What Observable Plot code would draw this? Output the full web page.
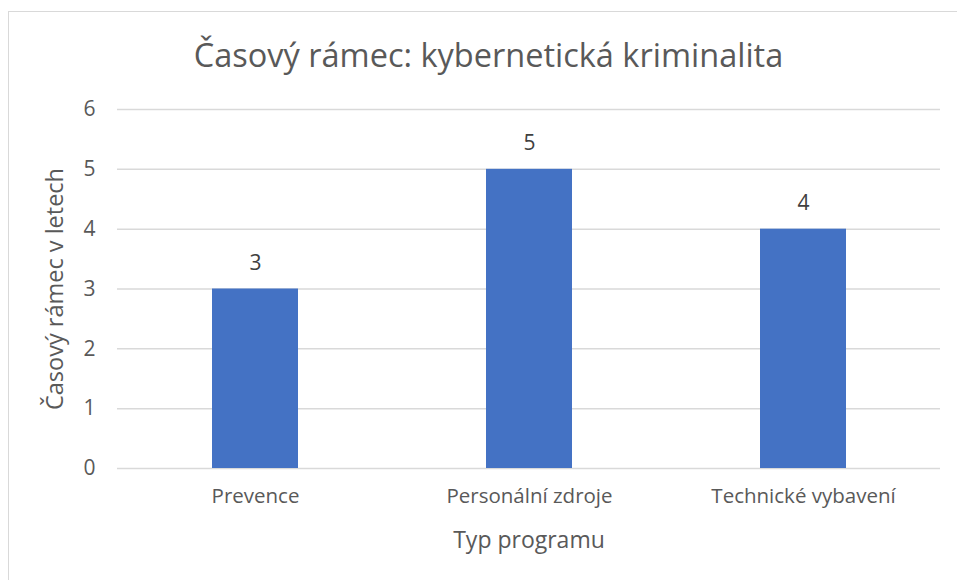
<!DOCTYPE html>
<html>
<head>
<meta charset="utf-8">
<script src="https://cdn.jsdelivr.net/npm/d3@7"></script>
<script src="https://cdn.jsdelivr.net/npm/@observablehq/plot@0.6"></script>
<style>
  html, body { margin: 0; padding: 0; background: #fff; }
  body { width: 957px; height: 580px; position: relative; overflow: hidden; font-family: "Open Sans", sans-serif; }
  #frame { position: absolute; left: 8px; top: 11px; width: 1000px; height: 1000px; border: 1px solid #d9d9d9; box-sizing: border-box; }
  #title { position: absolute; left: 0; width: 977px; top: 39px; text-align: center; font-size: 32.5px; color: #595959; line-height: 1; }
  #chart { position: absolute; left: 0; top: 0; }
</style>
</head>
<body>
<div id="frame"></div>
<div id="chart"></div>
<div id="title">Časový rámec: kybernetická kriminalita</div>
<script>
const categories = ["Prevence", "Personální zdroje", "Technické vybavení"];
const values = [3, 5, 4];
const yTicks = [0, 1, 2, 3, 4, 5, 6];
const xLabel = "Typ programu";
const yLabel = "Časový rámec v letech";

const data = categories.map((c, i) => ({category: c, value: values[i]}));

const chart = Plot.plot({
  width: 957,
  height: 580,
  marginLeft: 117,
  marginRight: 17,
  marginTop: 109,
  marginBottom: 112,
  style: {fontFamily: "Open Sans, sans-serif", color: "#595959", background: "transparent"},
  x: {domain: categories, paddingInner: 0.687, paddingOuter: 0.3435, label: null},
  y: {domain: [0, 6], ticks: yTicks, label: null},
  marks: [
    Plot.gridY(yTicks, {stroke: "#d9d9d9", strokeOpacity: 1, strokeWidth: 1.5}),
    Plot.barY(data, {x: "category", y: "value", fill: "#4472C4"}),
    Plot.text(data, {x: "category", y: "value", text: d => String(d.value), dy: -26, fontSize: 21, fill: "#404040"}),
    Plot.axisY(yTicks, {tickSize: 0, tickPadding: 22, fontSize: 21, fill: "#595959", label: null, tickFormat: d => String(d)}),
    Plot.axisX({tickSize: 0, tickPadding: 20, fontSize: 20.5, fill: "#595959", label: null}),
    Plot.text([xLabel], {frameAnchor: "bottom", dy: 72, fontSize: 23, fill: "#595959", lineAnchor: "middle", text: d => d}),
    Plot.text([yLabel], {frameAnchor: "left", textAnchor: "middle", dx: -62, rotate: -90, fontSize: 23.5, fill: "#595959", text: d => d})
  ]
});
document.getElementById("chart").appendChild(chart);
</script>
</body>
</html>
